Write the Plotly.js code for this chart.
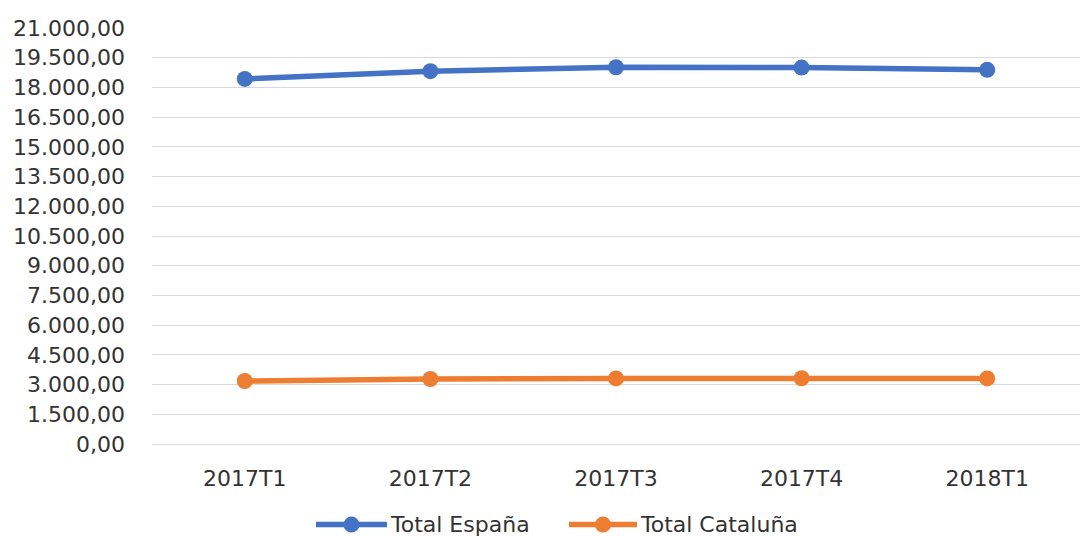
<!DOCTYPE html>
<html>
<head>
<meta charset="utf-8">
<script src="https://cdn.plot.ly/plotly-3.0.1.min.js"></script>
<style>html,body{margin:0;padding:0;background:#fff;}#chart{width:1080px;height:536px;}</style>
</head>
<body>
<div id="chart"></div>
<script>
const categories = ["2017T1", "2017T2", "2017T3", "2017T4", "2018T1"];
const totalEspana = [18430, 18820, 19020, 19000, 18890];
const totalCataluna = [3180, 3280, 3310, 3320, 3310];
const seriesNames = ["Total España", "Total Cataluña"];
const seriesColors = ["#4472C4", "#ED7D31"];

const font = "DejaVu Sans, sans-serif";
const fontSize = 22;
const textColor = "#333333";

const traces = [
  {
    x: categories, y: totalEspana, name: seriesNames[0], type: "scatter", mode: "lines+markers",
    line: {color: seriesColors[0], width: 5.5}, marker: {color: seriesColors[0], size: 16}
  },
  {
    x: categories, y: totalCataluna, name: seriesNames[1], type: "scatter", mode: "lines+markers",
    line: {color: seriesColors[1], width: 5.5}, marker: {color: seriesColors[1], size: 16}
  }
];

// custom legend (long line symbols as in the reference)
const L = 152, W = 928, B = 444.3, H = 416.8;
const px = v => (v - L) / W;
const py = v => (B - v) / H;
const legendItems = [
  {x0: 316, x1: 387, tx: 388},
  {x0: 569, x1: 637, tx: 638}
];
const legendY = 525;
const shapes = [];
const annotations = [];
legendItems.forEach((it, i) => {
  shapes.push({type: "line", xref: "paper", yref: "paper", x0: px(it.x0), x1: px(it.x1),
               y0: py(legendY), y1: py(legendY), line: {color: seriesColors[i], width: 5.5}});
  const cx = (it.x0 + it.x1) / 2;
  shapes.push({type: "circle", xref: "paper", yref: "paper", x0: px(cx - 8), x1: px(cx + 8),
               y0: py(legendY + 8), y1: py(legendY - 8), fillcolor: seriesColors[i],
               line: {color: seriesColors[i], width: 0}});
  annotations.push({xref: "paper", yref: "paper", x: px(it.tx), y: py(legendY), xanchor: "left",
                    yanchor: "middle", text: seriesNames[i], showarrow: false,
                    font: {family: font, size: fontSize, color: textColor}});
});

const layout = {
  width: 1080, height: 536,
  margin: {l: L, r: 0, t: 27.5, b: 536 - B},
  paper_bgcolor: "#fff", plot_bgcolor: "#fff",
  separators: ",.",
  font: {family: font, size: fontSize, color: textColor},
  showlegend: false,
  shapes: shapes,
  annotations: annotations,
  xaxis: {type: "category", range: [-0.5, 4.5], automargin: false, showgrid: false, zeroline: false,
          showline: false, ticks: "", ticklabelstandoff: 19,
          tickfont: {family: font, size: fontSize, color: textColor}},
  yaxis: {range: [0, 21000], dtick: 1500, tick0: 0, tickformat: ",.2f", automargin: false, showgrid: true,
          gridcolor: "#d9d9d9", gridwidth: 1, zeroline: true, zerolinecolor: "#d9d9d9", zerolinewidth: 1,
          showline: false, ticks: "", ticklabelstandoff: 26,
          tickfont: {family: font, size: fontSize, color: textColor}}
};

Plotly.newPlot("chart", traces, layout, {displayModeBar: false, staticPlot: true});
</script>
</body>
</html>
